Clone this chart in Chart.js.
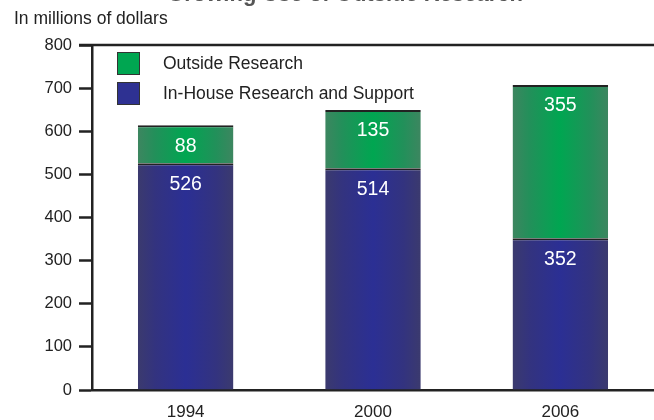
<!DOCTYPE html>
<html>
<head>
<meta charset="utf-8">
<script src="https://cdn.jsdelivr.net/npm/chart.js@4.4.1/dist/chart.umd.min.js"></script>
<style>
  html, body { margin: 0; padding: 0; background: #fff; }
  #wrap { width: 654px; height: 420px; position: relative; }
</style>
</head>
<body>
<div id="wrap"><canvas id="barchart"></canvas></div>
<script>
const years = ['1994', '2000', '2006'];
const inHouse = [526, 514, 352];
const outside = [88, 135, 355];
const yTicks = [0, 100, 200, 300, 400, 500, 600, 700, 800];

const FONT = '"Liberation Sans", Arial, sans-serif';
const BAR_PCT = 0.51;

// horizontal shading across each bar: dull edges, bright middle
function shade(stops) {
    return (c) => {
        const chart = c.chart;
        const x = chart.scales && chart.scales.x;
        if (!x || c.dataIndex === undefined) return stops[2];
        const mid = x.getPixelForTick(c.dataIndex);
        const half = (x.width / years.length) * BAR_PCT / 2;
        if (!isFinite(mid) || !isFinite(half) || half <= 0) return stops[2];
        const g = chart.ctx.createLinearGradient(mid - half, 0, mid + half, 0);
        g.addColorStop(0, stops[0]);
        g.addColorStop(0.18, stops[1]);
        g.addColorStop(0.5, stops[2]);
        g.addColorStop(0.82, stops[1]);
        g.addColorStop(1, stops[0]);
        return g;
    };
}

const extras = {
    id: 'extras',
    afterDraw(chart) {
        const ctx = chart.ctx;
        const area = chart.chartArea;
        ctx.save();

        // title, mostly off the top edge
        ctx.fillStyle = '#555';
        ctx.font = 'bold 22px ' + FONT;
        ctx.textAlign = 'center';
        ctx.textBaseline = 'alphabetic';
        ctx.fillText('Growing Use of Outside Research', 345, 1);

        ctx.font = '17.5px ' + FONT;
        ctx.textAlign = 'left';
        ctx.textBaseline = 'middle';
        ctx.fillStyle = '#222';
        ctx.fillText('In millions of dollars', 14, 19);

        // top frame line
        ctx.strokeStyle = '#222';
        ctx.lineWidth = 2.5;
        ctx.beginPath();
        ctx.moveTo(area.left - 13, area.top);
        ctx.lineTo(area.right, area.top);
        ctx.stroke();

        // values inside each segment
        ctx.fillStyle = '#fff';
        ctx.font = '19.5px ' + FONT;
        ctx.textAlign = 'center';
        chart.data.datasets.forEach((ds, i) => {
            chart.getDatasetMeta(i).data.forEach((bar, j) => {
                ctx.fillText(String(ds.data[j]), bar.x, bar.y + 21);
            });
        });

        // legend
        const items = [chart.data.datasets[1], chart.data.datasets[0]];
        ctx.font = '17.5px ' + FONT;
        ctx.textAlign = 'left';
        items.forEach((ds, k) => {
            const y = 52 + k * 30;
            ctx.fillStyle = ds.legendColor;
            ctx.fillRect(117, y, 23, 23);
            ctx.strokeStyle = '#333';
            ctx.lineWidth = 1;
            ctx.strokeRect(117.5, y + 0.5, 22, 22);
            ctx.fillStyle = '#222';
            ctx.fillText(ds.label, 163, y + 12);
        });
        ctx.restore();
    }
};

new Chart(document.getElementById('barchart'), {
    type: 'bar',
    data: {
        labels: years,
        datasets: [{
            label: 'In-House Research and Support',
            data: inHouse,
            legendColor: '#2e3192',
            backgroundColor: shade(['#3b3a6e', '#33337f', '#2b2f94']),
            borderColor: '#222',
            borderWidth: { top: 2, left: 0, right: 0, bottom: 0 },
            borderSkipped: false
        }, {
            label: 'Outside Research',
            data: outside,
            legendColor: '#00a651',
            backgroundColor: shade(['#3d8660', '#22905a', '#00a651']),
            borderColor: '#222',
            borderWidth: { top: 2, left: 0, right: 0, bottom: 0 },
            borderSkipped: false
        }]
    },
    plugins: [extras],
    options: {
        responsive: true,
        maintainAspectRatio: false,
        animation: false,
        barPercentage: BAR_PCT,
        categoryPercentage: 1,
        layout: { padding: { top: 45, right: 0, left: 0, bottom: 0 } },
        scales: {
            x: {
                stacked: true,
                grid: { display: false, drawTicks: false },
                border: { display: true, color: '#222', width: 2.5 },
                ticks: { color: '#222', font: { family: FONT, size: 17 }, padding: 12 },
                afterFit: (s) => { s.height = 30; }
            },
            y: {
                stacked: true,
                min: 0,
                max: 800,
                afterBuildTicks: (s) => { s.ticks = yTicks.map(v => ({ value: v })); },
                grid: { drawOnChartArea: false, drawTicks: true, tickLength: 13, tickWidth: 2.5, tickColor: '#222' },
                border: { display: true, color: '#222', width: 2.5 },
                ticks: { color: '#222', font: { family: FONT, size: 16.5 }, padding: 7 },
                afterFit: (s) => { s.width = 92; }
            }
        },
        plugins: {
            legend: { display: false },
            tooltip: { enabled: false }
        }
    }
});
</script>
</body>
</html>
